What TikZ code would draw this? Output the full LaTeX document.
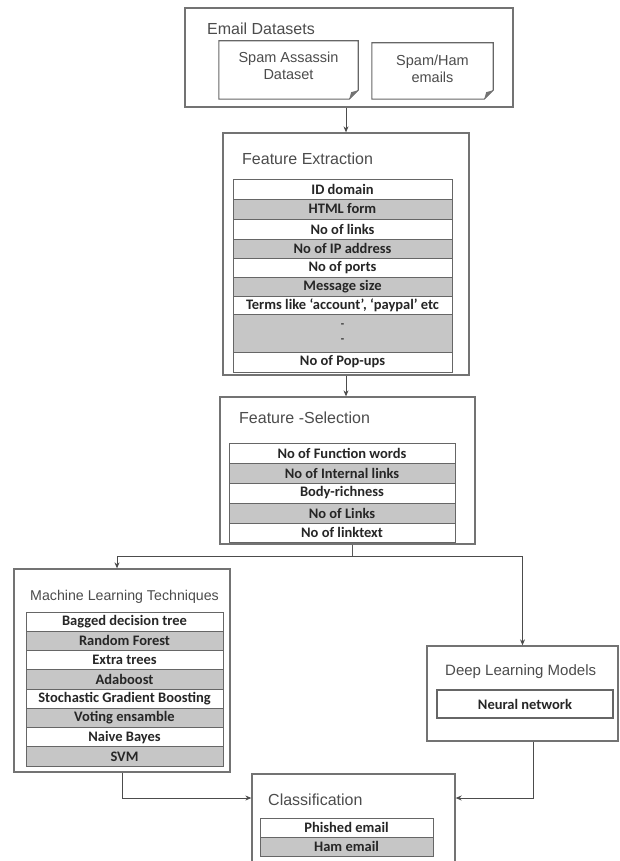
\documentclass[tikz,border=0pt]{standalone}
\usepackage{fontspec}
\usetikzlibrary{arrows.meta}
\newfontfamily\arialf{Liberation Sans}
\newfontfamily\calf{Carlito}
\newcommand{\rowfnt}{\calf\bfseries\fontsize{14.5}{16}\selectfont}
\newcommand{\ttlfnt}{\arialf\fontsize{16}{18}\selectfont}
\newcommand{\subfnt}{\arialf\fontsize{14.5}{17.5}\selectfont}
\tikzset{
  frame/.style={draw=black!55, line width=1.3pt, inner sep=0pt, fill=white},
  wrow/.style={draw=black!60, line width=0.9pt, inner sep=0pt, font=\rowfnt, text=black!85, fill=white},
  grayrow/.style={wrow, fill=gray!45},
  ttl/.style={font=\ttlfnt, text=black!70, anchor=west, inner sep=0pt},
  subtxt/.style={font=\subfnt, text=black!70, align=center, inner sep=0pt},
  notebox/.style={draw=black!60, line width=1.1pt, fill=white},
  arr/.style={draw=black!70, line width=1pt, -{Stealth[length=6pt,width=5pt]}},
  ln/.style={draw=black!65, line width=1pt},
}
\begin{document}
\begin{tikzpicture}[x=1pt,y=-1pt]
\useasboundingbox (0,0) rectangle (620,861);
\fill[white] (0,0) rectangle (620,861);
\clip (0,0) rectangle (620,861);

% ---------- Email Datasets ----------
\node[frame, minimum width=328pt, minimum height=99pt] (ed) at (349,57.5) {};
\node[ttl] (edt) at (207,29) {Email Datasets};
\node[minimum width=139pt, minimum height=58pt, inner sep=0pt] (sa) at (288.5,70) {};
\draw[notebox] (sa.north west) -- (sa.north east) -- ([yshift=9pt]sa.south east)
  -- ([xshift=-9pt]sa.south east) -- (sa.south west) -- cycle;
\fill[black!55] ([yshift=9pt]sa.south east) -- ([xshift=-9pt]sa.south east) -- ([xshift=-7pt,yshift=7pt]sa.south east) -- cycle;
\node[subtxt] (sat) at (sa.center) [yshift=4pt] {Spam Assassin\\Dataset};
\node[minimum width=121pt, minimum height=56pt, inner sep=0pt] (sh) at (432.5,71) {};
\draw[notebox] (sh.north west) -- (sh.north east) -- ([yshift=9pt]sh.south east)
  -- ([xshift=-9pt]sh.south east) -- (sh.south west) -- cycle;
\fill[black!55] ([yshift=9pt]sh.south east) -- ([xshift=-9pt]sh.south east) -- ([xshift=-7pt,yshift=7pt]sh.south east) -- cycle;
\node[subtxt] (sht) at (sh.center) [yshift=2pt] {Spam/Ham\\emails};

% ---------- Feature Extraction ----------
\node[frame, minimum width=246pt, minimum height=242pt] (fe) at (346,254) {};
\node[ttl] (fet) at (242,159) {Feature Extraction};
\node[wrow,    minimum width=219pt, minimum height=20pt] (fe1) at (342.5,189) {ID domain};
\node[grayrow, minimum width=219pt, minimum height=20pt] (fe2) at (342.5,209) {HTML form};
\node[wrow,    minimum width=219pt, minimum height=20pt] (fe3) at (342.5,229) {No of links};
\node[grayrow, minimum width=219pt, minimum height=19pt] (fe4) at (342.5,248.5) {No of IP address};
\node[wrow,    minimum width=219pt, minimum height=19pt] (fe5) at (342.5,267.5) {No of ports};
\node[grayrow, minimum width=219pt, minimum height=19pt] (fe6) at (342.5,286.5) {Message size};
\node[wrow,    minimum width=219pt, minimum height=18pt] (fe7) at (342.5,305) {Terms like ‘account’, ‘paypal’ etc};
\node[grayrow, minimum width=219pt, minimum height=38pt, align=center, font=\calf\bfseries\fontsize{11}{15}\selectfont] (fe8) at (342.5,333) {-\\-};
\node[wrow,    minimum width=219pt, minimum height=20pt] (fe9) at (342.5,362) {No of Pop-ups};

% ---------- Feature Selection ----------
\node[frame, minimum width=255pt, minimum height=147pt] (fs) at (347.5,470.5) {};
\node[ttl] (fst) at (239,418) {Feature -Selection};
\node[wrow,    minimum width=226pt, minimum height=20pt] (fs1) at (342,453) {No of Function words};
\node[grayrow, minimum width=226pt, minimum height=20pt] (fs2) at (342,473) {No of Internal links};
\node[wrow,    minimum width=226pt, minimum height=20pt] (fs3) at (342,493) {Body-richness};
\node[grayrow, minimum width=226pt, minimum height=20pt] (fs4) at (342,513) {No of Links};
\node[wrow,    minimum width=226pt, minimum height=19pt] (fs5) at (342,532.5) {No of linktext};

% ---------- Machine Learning ----------
\node[frame, minimum width=216pt, minimum height=203pt] (ml) at (122,670.5) {};
\node[ttl, font=\arialf\fontsize{14.2}{17}\selectfont] (mlt) at (30,597) {Machine Learning Techniques};
\node[wrow,    minimum width=197pt, minimum height=19.25pt] (ml1) at (124.5,621.6) {Bagged decision tree};
\node[grayrow, minimum width=197pt, minimum height=19.25pt] (ml2) at (124.5,640.9) {Random Forest};
\node[wrow,    minimum width=197pt, minimum height=19.25pt] (ml3) at (124.5,660.1) {Extra trees};
\node[grayrow, minimum width=197pt, minimum height=19.25pt] (ml4) at (124.5,679.4) {Adaboost};
\node[wrow,    minimum width=197pt, minimum height=19.25pt] (ml5) at (124.5,698.6) {Stochastic Gradient Boosting};
\node[grayrow, minimum width=197pt, minimum height=19.25pt] (ml6) at (124.5,717.9) {Voting ensamble};
\node[wrow,    minimum width=197pt, minimum height=19.25pt] (ml7) at (124.5,737.1) {Naive Bayes};
\node[grayrow, minimum width=197pt, minimum height=19.25pt] (ml8) at (124.5,756.4) {SVM};

% ---------- Deep Learning ----------
\node[frame, minimum width=191pt, minimum height=95pt] (dl) at (522.5,693.5) {};
\node[ttl, font=\arialf\fontsize{15}{18}\selectfont] (dlt) at (445,672) {Deep Learning Models};
\node[wrow, line width=1.2pt, minimum width=176pt, minimum height=28pt] (nn) at (525,704) {Neural network};

% ---------- Classification ----------
\node[frame, minimum width=203pt, minimum height=96pt] (cl) at (353.5,822) {};
\node[ttl] (clt) at (268,800) {Classification};
\node[wrow,    minimum width=173pt, minimum height=19pt] (cl1) at (346.5,827.5) {Phished email};
\node[grayrow, minimum width=173pt, minimum height=19pt] (cl2) at (346.5,846.5) {Ham email};

% ---------- Connectors ----------
\draw[arr] (ed.south -| fe.north) -- (fe.north);
\draw[arr] (fe.south) -- (fe.south |- fs.north);
\coordinate (sp) at (352,556);
\draw[ln] (fs.south -| sp) -- (sp);
\draw[arr] (sp) -| ([xshift=-5pt]ml.north);
\draw[arr] (sp) -| (dl.north);
\coordinate (jy) at (0,798);
\draw[arr] (ml.south) |- (cl.west |- jy);
\draw[arr] ([xshift=10.5pt]dl.south) |- (cl.east |- jy);
\end{tikzpicture}
\end{document}
